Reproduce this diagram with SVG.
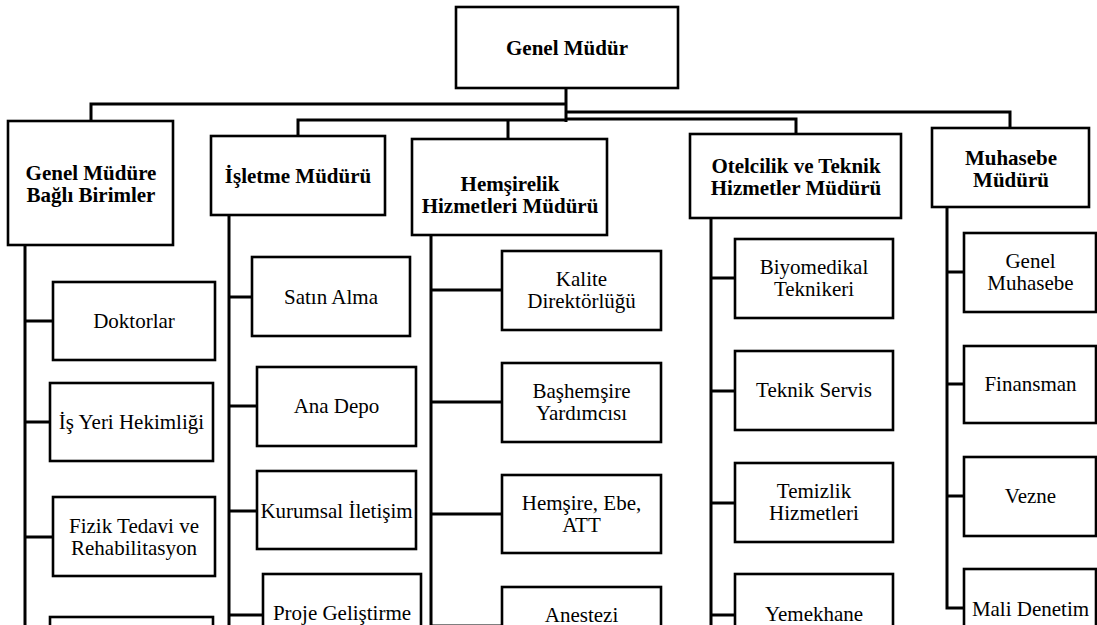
<svg xmlns="http://www.w3.org/2000/svg" width="1097" height="625" viewBox="0 0 1097 625">
<rect width="1097" height="625" fill="#fff"/>
<g id="connectors" fill="none" stroke="#000" stroke-width="3">
<path d="M566,88 V122"/>
<path d="M566,104 H91 V121"/>
<path d="M566,120 H298 V136"/>
<path d="M508,120 V139"/>
<path d="M566,119 H796 V134"/>
<path d="M566,112 H1010 V128"/>
<path d="M25,245 V625 M25,321 H53 M25,422 H50 M25,537 H53"/>
<path d="M229,215 V625 M229,297 H252 M229,406 H257 M229,511 H257 M229,615 H263"/>
<path d="M431,235 V625 M431,290 H502 M431,402 H502 M431,514 H502 M431,626 H502"/>
<path d="M711,218 V625 M711,278 H735 M711,391 H735 M711,503 H735 M711,615 H735"/>
<path d="M947,207 V608 H964 M947,272 H964 M947,384 H964 M947,496 H964"/>
</g>
<g id="nodes" text-anchor="middle">
<g id="genel-mudur"><rect fill="#fff" stroke="#000" stroke-width="2.6" x="456" y="7" width="222" height="81"/><text font-family="Liberation Serif" font-size="21" font-weight="bold" x="567" y="55">Genel Müdür</text></g>
<g id="genel-mudure-bagli"><rect fill="#fff" stroke="#000" stroke-width="2.6" x="8" y="121" width="165" height="124"/><text font-family="Liberation Serif" font-size="21" font-weight="bold" x="91" y="180">Genel Müdüre</text><text font-family="Liberation Serif" font-size="21" font-weight="bold" x="91" y="202">Bağlı Birimler</text></g>
<g id="isletme"><rect fill="#fff" stroke="#000" stroke-width="2.6" x="211" y="136" width="174" height="79"/><text font-family="Liberation Serif" font-size="21" font-weight="bold" x="298" y="183">İşletme Müdürü</text></g>
<g id="hemsirelik"><rect fill="#fff" stroke="#000" stroke-width="2.6" x="412" y="139" width="195" height="96"/><text font-family="Liberation Serif" font-size="21" font-weight="bold" x="510" y="191">Hemşirelik</text><text font-family="Liberation Serif" font-size="21" font-weight="bold" x="510" y="213">Hizmetleri Müdürü</text></g>
<g id="otelcilik"><rect fill="#fff" stroke="#000" stroke-width="2.6" x="690" y="134" width="211" height="84"/><text font-family="Liberation Serif" font-size="21" font-weight="bold" x="796" y="173">Otelcilik ve Teknik</text><text font-family="Liberation Serif" font-size="21" font-weight="bold" x="796" y="195">Hizmetler Müdürü</text></g>
<g id="muhasebe"><rect fill="#fff" stroke="#000" stroke-width="2.6" x="932" y="128" width="157" height="79"/><text font-family="Liberation Serif" font-size="21" font-weight="bold" x="1011" y="165">Muhasebe</text><text font-family="Liberation Serif" font-size="21" font-weight="bold" x="1011" y="187">Müdürü</text></g>
<g id="doktorlar"><rect fill="#fff" stroke="#000" stroke-width="2.6" x="53" y="282" width="162" height="78"/><text font-family="Liberation Serif" font-size="21" x="134" y="328">Doktorlar</text></g>
<g id="is-yeri"><rect fill="#fff" stroke="#000" stroke-width="2.6" x="50" y="383" width="163" height="78"/><text font-family="Liberation Serif" font-size="21" x="131.5" y="429">İş Yeri Hekimliği</text></g>
<g id="fizik"><rect fill="#fff" stroke="#000" stroke-width="2.6" x="53" y="497" width="162" height="79"/><text font-family="Liberation Serif" font-size="21" x="134" y="533">Fizik Tedavi ve</text><text font-family="Liberation Serif" font-size="21" x="134" y="555">Rehabilitasyon</text></g>
<g id="gmb-4"><rect fill="#fff" stroke="#000" stroke-width="2.6" x="50" y="617" width="163" height="40"/></g>
<g id="satin-alma"><rect fill="#fff" stroke="#000" stroke-width="2.6" x="252" y="257" width="158" height="79"/><text font-family="Liberation Serif" font-size="21" x="331" y="304">Satın Alma</text></g>
<g id="ana-depo"><rect fill="#fff" stroke="#000" stroke-width="2.6" x="257" y="367" width="159" height="79"/><text font-family="Liberation Serif" font-size="21" x="336.5" y="413">Ana Depo</text></g>
<g id="kurumsal"><rect fill="#fff" stroke="#000" stroke-width="2.6" x="257" y="471" width="159" height="78"/><text font-family="Liberation Serif" font-size="21" x="336.5" y="518">Kurumsal İletişim</text></g>
<g id="proje"><rect fill="#fff" stroke="#000" stroke-width="2.6" x="263" y="574" width="158" height="70"/><text font-family="Liberation Serif" font-size="21" x="342" y="620">Proje Geliştirme</text></g>
<g id="kalite"><rect fill="#fff" stroke="#000" stroke-width="2.6" x="502" y="251" width="159" height="79"/><text font-family="Liberation Serif" font-size="21" x="581.5" y="286">Kalite</text><text font-family="Liberation Serif" font-size="21" x="581.5" y="308">Direktörlüğü</text></g>
<g id="bashemsire"><rect fill="#fff" stroke="#000" stroke-width="2.6" x="502" y="363" width="159" height="79"/><text font-family="Liberation Serif" font-size="21" x="581.5" y="398">Başhemşire</text><text font-family="Liberation Serif" font-size="21" x="581.5" y="420">Yardımcısı</text></g>
<g id="hemsire"><rect fill="#fff" stroke="#000" stroke-width="2.6" x="502" y="475" width="159" height="78"/><text font-family="Liberation Serif" font-size="21" x="581.5" y="510">Hemşire, Ebe,</text><text font-family="Liberation Serif" font-size="21" x="581.5" y="532">ATT</text></g>
<g id="anestezi"><rect fill="#fff" stroke="#000" stroke-width="2.6" x="502" y="587" width="159" height="60"/><text font-family="Liberation Serif" font-size="21" x="581.5" y="622">Anestezi</text></g>
<g id="biyomedikal"><rect fill="#fff" stroke="#000" stroke-width="2.6" x="735" y="239" width="158" height="79"/><text font-family="Liberation Serif" font-size="21" x="814" y="274">Biyomedikal</text><text font-family="Liberation Serif" font-size="21" x="814" y="296">Teknikeri</text></g>
<g id="teknik-servis"><rect fill="#fff" stroke="#000" stroke-width="2.6" x="735" y="351" width="158" height="79"/><text font-family="Liberation Serif" font-size="21" x="814" y="397">Teknik Servis</text></g>
<g id="temizlik"><rect fill="#fff" stroke="#000" stroke-width="2.6" x="735" y="463" width="158" height="79"/><text font-family="Liberation Serif" font-size="21" x="814" y="498">Temizlik</text><text font-family="Liberation Serif" font-size="21" x="814" y="520">Hizmetleri</text></g>
<g id="yemekhane"><rect fill="#fff" stroke="#000" stroke-width="2.6" x="735" y="574" width="158" height="70"/><text font-family="Liberation Serif" font-size="21" x="814" y="621">Yemekhane</text></g>
<g id="genel-muhasebe"><rect fill="#fff" stroke="#000" stroke-width="2.6" x="964" y="233" width="132" height="79"/><text font-family="Liberation Serif" font-size="21" x="1030.5" y="268">Genel</text><text font-family="Liberation Serif" font-size="21" x="1030.5" y="290">Muhasebe</text></g>
<g id="finansman"><rect fill="#fff" stroke="#000" stroke-width="2.6" x="964" y="346" width="132" height="77"/><text font-family="Liberation Serif" font-size="21" x="1030.5" y="391">Finansman</text></g>
<g id="vezne"><rect fill="#fff" stroke="#000" stroke-width="2.6" x="964" y="457" width="132" height="79"/><text font-family="Liberation Serif" font-size="21" x="1030.5" y="503">Vezne</text></g>
<g id="mali-denetim"><rect fill="#fff" stroke="#000" stroke-width="2.6" x="964" y="569" width="132" height="70"/><text font-family="Liberation Serif" font-size="21" x="1030.5" y="616">Mali Denetim</text></g>
</g>
</svg>
